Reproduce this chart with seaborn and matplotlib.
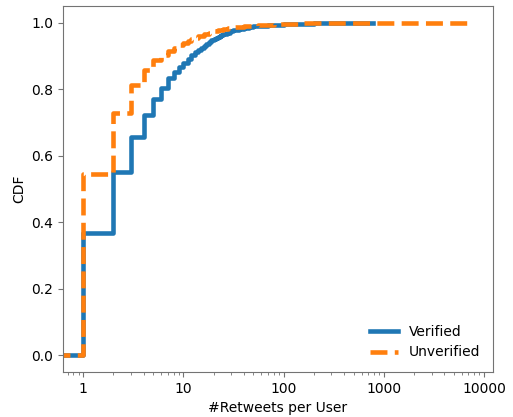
import matplotlib
matplotlib.use("Agg")
import matplotlib.pyplot as plt
from matplotlib.ticker import FixedLocator, FixedFormatter
import pandas as pd
import seaborn as sns

# CDF values (step functions)
verified_x = [0.5, 1, 2, 3, 4, 5, 6, 7, 8, 9, 10, 11, 12, 13, 14, 15, 16, 17,
              18, 19, 20, 21, 22, 23, 24, 25, 27, 29, 31, 33, 36, 40, 45, 50,
              55, 60, 70, 80, 100, 150, 200, 300, 500, 780]
verified_cdf = [0.0, 0.369, 0.55, 0.658, 0.724, 0.771, 0.805, 0.833, 0.853,
                0.868, 0.88, 0.892, 0.902, 0.911, 0.918, 0.925, 0.931, 0.937,
                0.942, 0.947, 0.951, 0.955, 0.958, 0.961, 0.964, 0.967, 0.971,
                0.975, 0.978, 0.98, 0.983, 0.986, 0.988, 0.99, 0.991, 0.992,
                0.994, 0.995, 0.997, 0.998, 0.999, 0.9995, 0.9998, 1.0]

unverified_x = [0.5, 1, 2, 3, 4, 5, 6, 7, 8, 9, 10, 11, 12, 13, 14, 16, 18,
                20, 22, 25, 28, 32, 36, 40, 47, 55, 65, 80, 100, 150, 200,
                400, 1000, 7000]
unverified_cdf = [0.0, 0.546, 0.728, 0.813, 0.858, 0.887, 0.903, 0.915, 0.925,
                  0.933, 0.94, 0.946, 0.951, 0.956, 0.96, 0.966, 0.971, 0.975,
                  0.978, 0.982, 0.985, 0.987, 0.989, 0.99, 0.992, 0.993,
                  0.995, 0.996, 0.998, 0.999, 0.9995, 0.9998, 0.9999, 1.0]

x_ticks = [1, 10, 100, 1000, 10000]
x_tick_labels = ["1", "10", "100", "1000", "10000"]

df = pd.concat([
    pd.DataFrame({"x": verified_x, "cdf": verified_cdf, "group": "Verified"}),
    pd.DataFrame({"x": unverified_x, "cdf": unverified_cdf, "group": "Unverified"}),
])

fig, ax = plt.subplots(figsize=(5.13, 4.17), dpi=100)

sns.lineplot(data=df[df.group == "Verified"], x="x", y="cdf", ax=ax,
             drawstyle="steps-post", color="#1f77b4", linewidth=3.3,
             label="Verified")
sns.lineplot(data=df[df.group == "Unverified"], x="x", y="cdf", ax=ax,
             drawstyle="steps-post", color="#ff7f0e", linewidth=3.3,
             linestyle="--", label="Unverified")

ax.set_xscale("log")
ax.set_xlim(0.63, 12300)
ax.set_ylim(-0.05, 1.05)
ax.xaxis.set_major_locator(FixedLocator(x_ticks))
ax.xaxis.set_major_formatter(FixedFormatter(x_tick_labels))
ax.set_xlabel("#Retweets per User")
ax.set_ylabel("CDF")

for s in ax.spines.values():
    s.set_color("0.45")
ax.tick_params(colors="0.45", labelcolor="black")
ax.tick_params(axis="x", which="minor", colors="0.45")

ax.legend(loc="lower right", frameon=False, fontsize=10)

plt.subplots_adjust(left=0.123, right=0.961, top=0.985, bottom=0.108)
fig.savefig("out.png", dpi=100)
